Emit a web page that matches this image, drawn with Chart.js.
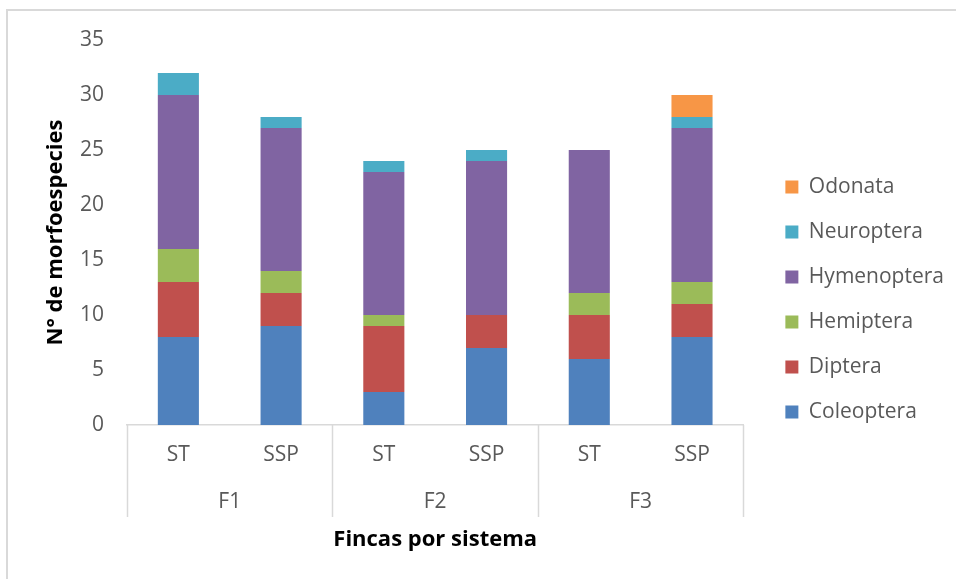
<!DOCTYPE html>
<html>
<head>
<meta charset="utf-8">
<script src="https://cdn.jsdelivr.net/npm/chart.js@4/dist/chart.umd.min.js"></script>
<style>
  html, body { margin: 0; padding: 0; background: #fff; }
  #wrap { width: 956px; height: 579px; }
</style>
</head>
<body>
<div id="wrap"><canvas id="c" width="956" height="579"></canvas></div>
<script>
const systems = ['ST', 'SSP', 'ST', 'SSP', 'ST', 'SSP'];
const farms = ['F1', 'F2', 'F3'];

const coleoptera  = [8, 9, 3, 7, 6, 8];
const diptera     = [5, 3, 6, 3, 4, 3];
const hemiptera   = [3, 2, 1, 0, 2, 2];
const hymenoptera = [14, 13, 13, 14, 13, 14];
const neuroptera  = [2, 1, 1, 1, 0, 1];
const odonata     = [0, 0, 0, 0, 0, 2];

const yTicks = [0, 5, 10, 15, 20, 25, 30, 35];

const grey = '#595959';
const lineGrey = '#d9d9d9';
const fam = '"Open Sans", sans-serif';

// outer frame + separators between the farm groups
const framePlugin = {
  id: 'frame',
  beforeDraw(chart) {
    const c = chart.ctx;
    c.save();
    c.strokeStyle = lineGrey;
    c.lineWidth = 2;
    c.beginPath();
    c.moveTo(7, 600); c.lineTo(7, 10); c.lineTo(960, 10);
    c.stroke();
    c.restore();
  },
  afterDraw(chart) {
    const c = chart.ctx;
    const g = chart.scales.x2;
    const top = chart.chartArea.bottom;
    const half = (g.getPixelForValue(1) - g.getPixelForValue(0)) / 2;
    c.save();
    c.strokeStyle = lineGrey;
    c.lineWidth = 1.5;
    c.beginPath();
    for (let i = 0; i <= farms.length; i++) {
      const x = Math.round(g.getPixelForValue(0) - half + i * half * 2) + 0.5;
      c.moveTo(x, top); c.lineTo(x, top + 92);
    }
    c.stroke();
    c.restore();
  }
};

const ds = (label, data, color) => ({
  label, data, backgroundColor: color, borderWidth: 0,
  barPercentage: 0.4, categoryPercentage: 1, xAxisID: 'x'
});

new Chart(document.getElementById('c'), {
  type: 'bar',
  data: {
    labels: systems,
    datasets: [
      ds('Coleoptera', coleoptera, '#4f81bd'),
      ds('Diptera', diptera, '#c0504d'),
      ds('Hemiptera', hemiptera, '#9bbb59'),
      ds('Hymenoptera', hymenoptera, '#8064a2'),
      ds('Neuroptera', neuroptera, '#4bacc6'),
      ds('Odonata', odonata, '#f79646')
    ]
  },
  options: {
    responsive: false,
    animation: false,
    layout: { padding: { left: 20, top: 40, right: 2, bottom: 20 } },
    plugins: {
      tooltip: { enabled: false },
      legend: {
        position: 'right',
        reverse: true,
        maxWidth: 240,
        labels: {
          boxWidth: 13, boxHeight: 13, padding: 24,
          color: grey, font: { family: fam, size: 21 }
        }
      }
    },
    scales: {
      x: {
        stacked: true,
        weight: 0,
        grid: { display: false, drawTicks: false },
        border: { display: true, color: lineGrey, width: 1.5 },
        ticks: { color: grey, font: { family: fam, size: 21 }, padding: 17 },
        afterFit: s => { s.height = 52; }
      },
      x2: {
        type: 'category',
        labels: farms,
        position: 'bottom',
        offset: true,
        weight: 1,
        grid: { display: false, drawTicks: false },
        border: { display: false },
        ticks: { color: grey, font: { family: fam, size: 21 }, padding: 12 },
        title: {
          display: true, text: 'Fincas por sistema', color: '#000',
          font: { family: fam, size: 22, weight: 'bold' }, padding: { top: 0, bottom: 6 }
        },
        afterFit: s => { s.height = 82; }
      },
      y: {
        stacked: true,
        min: 0, max: 35,
        afterBuildTicks: s => { s.ticks = yTicks.map(v => ({ value: v })); },
        grid: { display: false, drawTicks: false },
        border: { display: false },
        ticks: { color: grey, font: { family: fam, size: 21 }, padding: 23 },
        title: {
          display: true, text: 'N° de morfoespecies', color: '#000',
          font: { family: fam, size: 22, weight: 'bold' }, padding: { top: 23, bottom: 0 }
        },
        afterFit: s => { s.width = 107; }
      },
      spacer: {
        type: 'linear',
        position: 'right',
        display: true,
        grid: { display: false, drawTicks: false },
        border: { display: false },
        ticks: { display: false },
        afterFit: s => { s.width = 18; }
      }
    }
  },
  plugins: [framePlugin]
});
</script>
</body>
</html>
